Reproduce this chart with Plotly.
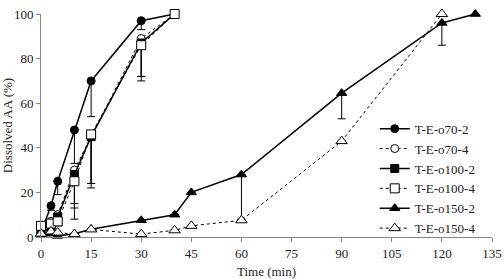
import plotly.graph_objects as go

# Data
t_o70_2 = [0, 3, 5, 10, 15, 30, 40]
y_o70_2 = [2, 14, 25, 48, 70, 97, 100]
e_o70_2 = [0, 2, 6, 15, 16, 4, 0]

t_o70_4 = [0, 3, 5, 10, 15, 30, 40]
y_o70_4 = [2, 7, 10, 30, 45, 89, 100]
e_o70_4 = [0, 2, 3, 17, 23, 19, 0]

t_o100_2 = [0, 3, 5, 10, 15, 30, 40]
y_o100_2 = [2, 4, 9, 28, 45, 87, 100]
e_o100_2 = [0, 1, 2, 20, 21, 15, 0]

t_o100_4 = [0, 3, 5, 10, 15, 30, 40]
y_o100_4 = [5, 6, 7, 25, 46, 86, 100]
e_o100_4 = [0, 1, 2, 10, 22, 14, 0]

t_o150_2 = [0, 3, 5, 10, 15, 30, 40, 45, 60, 90, 120, 130]
y_o150_2 = [1, 1.5, 0.5, 1.5, 3.5, 7.5, 10, 20, 28, 64.5, 96, 100]
e_o150_2 = [0, 0, 0, 0, 0, 0, 0, 0, 20, 11.5, 10, 0]

t_o150_4 = [0, 3, 5, 10, 15, 30, 40, 45, 60, 90, 120]
y_o150_4 = [1.5, 2.5, 2, 1.3, 3.4, 1.3, 3, 5, 7.5, 43, 100]
e_o150_4 = [0, 0, 0, 0, 0, 0, 0, 0, 0, 0, 0]

x_ticks = [0, 15, 30, 45, 60, 75, 90, 105, 120, 135]
y_ticks = [0, 20, 40, 60, 80, 100]

series = [
    ("T-E-o70-2", t_o70_2, y_o70_2, e_o70_2, "circle", "black", "solid", 1.5, 8),
    ("T-E-o70-4", t_o70_4, y_o70_4, e_o70_4, "circle", "white", "dot", 1, 8),
    ("T-E-o100-2", t_o100_2, y_o100_2, e_o100_2, "square", "black", "solid", 1.5, 8),
    ("T-E-o100-4", t_o100_4, y_o100_4, e_o100_4, "square", "white", "dot", 1, 9),
    ("T-E-o150-2", t_o150_2, y_o150_2, e_o150_2, "triangle-up", "black", "solid", 1.5, 9),
    ("T-E-o150-4", t_o150_4, y_o150_4, e_o150_4, "triangle-up", "white", "dot", 1, 10),
]

fig = go.Figure()
for name, x, y, e, sym, fill, dash, lw, ms in series:
    fig.add_trace(go.Scatter(
        x=x, y=y, name=name, mode="lines+markers", cliponaxis=False,
        line=dict(color="black", width=lw, dash=dash),
        marker=dict(symbol=sym, size=ms, color=fill,
                    line=dict(color="black", width=1)),
        error_y=dict(type="data", symmetric=False, array=[0] * len(e),
                     arrayminus=e, color="black", thickness=1, width=4),
    ))

font_family = "Liberation Serif"
fig.update_layout(
    width=504, height=279,
    margin=dict(l=41, r=12, t=14, b=42, autoexpand=False),
    paper_bgcolor="white", plot_bgcolor="white",
    font=dict(family=font_family, size=13, color="#222"),
    showlegend=True,
    legend=dict(x=0.74, y=-0.03, xanchor="left", yanchor="bottom",
                bgcolor="rgba(0,0,0,0)", font=dict(size=13, family=font_family),
                tracegroupgap=0, itemwidth=30),
    xaxis=dict(range=[0, 135], tickvals=x_ticks, showgrid=False, zeroline=False,
               automargin=False,
               showline=True, linecolor="#888", linewidth=1,
               ticks="outside", ticklen=4, tickcolor="#888",
               tickfont=dict(size=13, family=font_family),
               title=dict(text="Time (min)", standoff=10,
                          font=dict(size=13, family=font_family))),
    yaxis=dict(range=[0, 100], tickvals=y_ticks, showgrid=False, zeroline=False,
               automargin=False,
               showline=True, linecolor="#888", linewidth=1,
               ticks="outside", ticklen=4, tickcolor="#888",
               tickfont=dict(size=13, family=font_family),
               title=dict(text="Dissolved AA (%)", standoff=4,
                          font=dict(size=13, family=font_family))),
)

fig.write_html("out.html")
